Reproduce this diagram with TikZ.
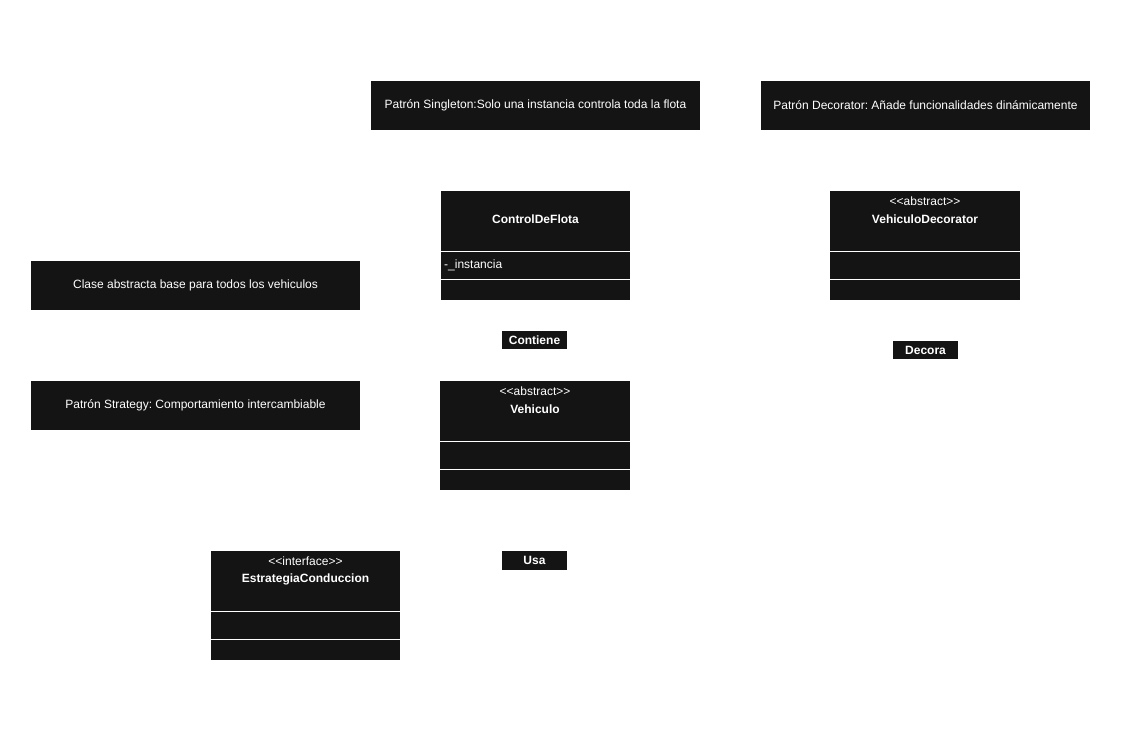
\documentclass[tikz,border=0pt]{standalone}
\usepackage{fontspec}
\setmainfont{Liberation Sans}
\definecolor{boxc}{HTML}{141414}
\frenchspacing
\begin{document}
\begin{tikzpicture}[x=1pt,y=-1pt,
  wtext/.style={text=white,font=\fontsize{12}{14}\selectfont,inner sep=0pt},
  stereo/.style={text=white,font=\fontsize{12}{14}\selectfont,inner sep=0pt},
  cname/.style={text=white,font=\bfseries\fontsize{12}{14}\selectfont,inner sep=0pt},
  sep/.style={draw=white,line width=1pt}
]
\useasboundingbox (0,0) rectangle (1130,738);
\fill[white] (0,0) rectangle (1130,738);

% notes
\fill[boxc] (371,81) rectangle (700,130);
\node[wtext] (nsing) at (535.5,105) {Patrón Singleton:Solo una instancia controla toda la flota};
\fill[boxc] (761,81) rectangle (1090,130);
\node[wtext] (ndec) at (925.5,105) {Patrón Decorator: Añade funcionalidades dinámicamente};
\fill[boxc] (31,261) rectangle (360,310);
\node[wtext] (nbase) at (195.5,285) {Clase abstracta base para todos los vehiculos};
\fill[boxc] (31,381) rectangle (360,430);
\node[wtext] (nstrat) at (195.5,405) {Patrón Strategy: Comportamiento intercambiable};

% ControlDeFlota
\fill[boxc] (441,191) rectangle (630,300);
\draw[sep] (441,251.5) -- (630,251.5);
\draw[sep] (441,279.5) -- (630,279.5);
\node[cname] (cflota) at (535.5,219) {ControlDeFlota};
\node[wtext,anchor=west] (cinst) at (444,265) {-\_instancia};

% VehiculoDecorator
\fill[boxc] (830,191) rectangle (1020,300);
\draw[sep] (830,251.5) -- (1020,251.5);
\draw[sep] (830,279.5) -- (1020,279.5);
\node[stereo] (sdec) at (925,201) {{<}{<}abstract{>}{>}};
\node[cname] (cdec) at (925,219) {VehiculoDecorator};

% Vehiculo
\fill[boxc] (440,381) rectangle (630,490);
\draw[sep] (440,441.5) -- (630,441.5);
\draw[sep] (440,469.5) -- (630,469.5);
\node[stereo] (sveh) at (535,391) {{<}{<}abstract{>}{>}};
\node[cname] (cveh) at (535,409) {Vehiculo};

% EstrategiaConduccion
\fill[boxc] (211,551) rectangle (400,660);
\draw[sep] (211,611.5) -- (400,611.5);
\draw[sep] (211,639.5) -- (400,639.5);
\node[stereo] (sest) at (305.5,561) {{<}{<}interface{>}{>}};
\node[cname] (cest) at (305.5,579) {EstrategiaConduccion};

% labels
\fill[boxc] (502,331) rectangle (567,349);
\node[cname] (lcont) at (534.5,340) {Contiene};
\fill[boxc] (893,341) rectangle (958,359);
\node[cname] (ldec) at (925.5,350) {Decora};
\fill[boxc] (502,551) rectangle (567,570);
\node[cname] (lusa) at (534.5,560.5) {Usa};
\end{tikzpicture}
\end{document}
